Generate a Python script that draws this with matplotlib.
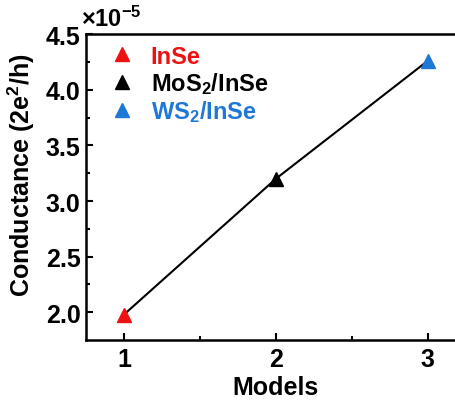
import matplotlib
matplotlib.use("Agg")
import matplotlib.pyplot as plt
from matplotlib.ticker import MultipleLocator

plt.rcParams['font.family'] = ['Liberation Sans', 'DejaVu Sans']
plt.rcParams['font.weight'] = 'bold'
plt.rcParams['mathtext.fontset'] = 'custom'
plt.rcParams['mathtext.rm'] = 'Liberation Sans:bold'
plt.rcParams['mathtext.bf'] = 'Liberation Sans:bold'
plt.rcParams['mathtext.default'] = 'bf'

models = [1, 2, 3]
conductance = [1.98, 3.20, 4.26]  # x 1e-5 (2e^2/h)
names = ['InSe', 'MoS$_2$/InSe', 'WS$_2$/InSe']
colors = ['#ee1111', '#000000', '#1f78d6']

fig = plt.figure(figsize=(4.56, 4.10), dpi=100)
ax = fig.add_axes([0.1886, 0.169, 0.833, 0.7456])

ax.plot(models, conductance, color='black', lw=1.5, zorder=1)
for x, y, n, c in zip(models, conductance, names, colors):
    ax.plot(x, y, marker='^', ms=10, color=c, ls='none', label=n, zorder=2)

ax.set_xlim(0.75, 3.25)
ax.set_ylim(1.754, 4.5)
ax.xaxis.set_major_locator(MultipleLocator(1))
ax.xaxis.set_minor_locator(MultipleLocator(0.5))
ax.yaxis.set_major_locator(MultipleLocator(0.5))
ax.yaxis.set_minor_locator(MultipleLocator(0.25))
ax.tick_params(which='both', direction='in', width=1.5, labelsize=18)
ax.tick_params(axis='x', pad=5)
ax.tick_params(axis='y', pad=4)
ax.tick_params(which='major', length=5)
ax.tick_params(which='minor', length=3)
ax.yaxis.set_major_formatter(plt.FuncFormatter(lambda v, p: '%.1f' % v))
for s in ax.spines.values():
    s.set_linewidth(1.8)

ax.set_xlabel('Models', fontsize=18, fontweight='bold', labelpad=3)
ax.set_ylabel('Conductance (2e$^2$/h)', fontsize=18, fontweight='bold')
ax.yaxis.set_label_coords(-0.128, 0.54)
ax.text(-0.012, 1.026, r'$\times$10$^{-5}$', transform=ax.transAxes,
        fontsize=17, fontweight='bold', ha='left', va='baseline')

leg = ax.legend(loc='upper left', frameon=False, fontsize=17, handlelength=1.0,
                handletextpad=0.7, labelspacing=0.1, borderaxespad=0.0,
                borderpad=0.0, bbox_to_anchor=(0.065, 0.965))
for t, c in zip(leg.get_texts(), colors):
    t.set_color(c)

fig.savefig('out.png', dpi=100)
